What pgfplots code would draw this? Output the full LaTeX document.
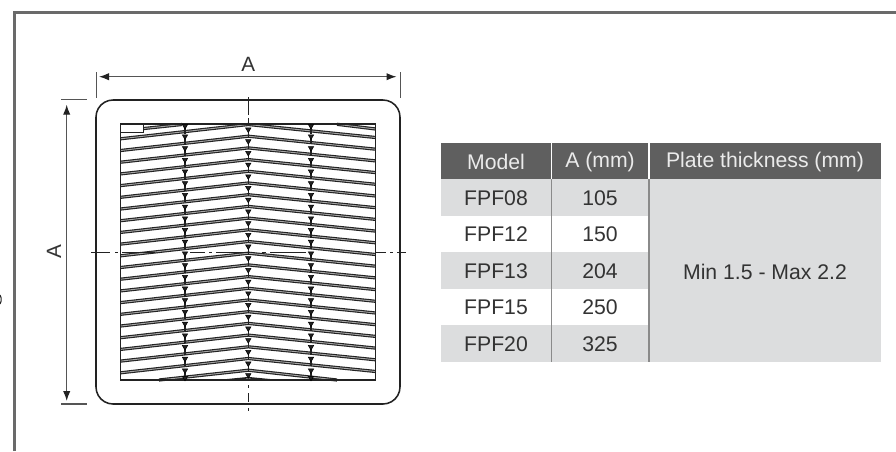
\documentclass[border=0pt]{standalone}
\usepackage{fontspec}
\setmainfont{Liberation Sans}
\usepackage{pgfplots}
\pgfplotsset{compat=1.18}
\usetikzlibrary{arrows.meta}
\definecolor{frameC}{HTML}{6A6A6A}
\definecolor{headC}{HTML}{5F5F5F}
\definecolor{rowC}{HTML}{DCDDDE}
\definecolor{sepC}{HTML}{8A8A8A}
\definecolor{inkC}{HTML}{222222}
\definecolor{dimC}{HTML}{555555}
\definecolor{txtC}{HTML}{333333}
\newcommand{\body}[1]{\fontsize{15.9}{18}\selectfont\color{txtC}#1}
\newcommand{\head}[1]{\fontsize{15.9}{18}\selectfont\color{white!92!black}#1}
\begin{document}
\begin{tikzpicture}
\begin{axis}[
  scale only axis, width=672pt, height=338.25pt,
  xmin=0, xmax=896, ymin=0, ymax=451, y dir=reverse,
  axis line style={draw=none}, ticks=none, clip=true,
  unbounded coords=jump, every axis plot/.append style={mark=none}]
% background
\addplot[fill=white,draw=none] coordinates {(0,0)(896,0)(896,451)(0,451)} --cycle;
% frame
\addplot[frameC,line width=2.3pt] coordinates {(14.7,451)(14.7,12.5)(896,12.5)};
\addplot[inkC,line width=0.8pt] coordinates {(0,295)(1.2,298)(1.2,301)(0,304)};
% table fills
\addplot[fill=headC,draw=none] coordinates {(441,142.7)(880.7,142.7)(880.7,179.3)(441,179.3)} --cycle;
\addplot[fill=rowC,draw=none] coordinates {(441,179.3)(551.3,179.3)(551.3,215.7)(441,215.7)} --cycle;
\addplot[fill=rowC,draw=none] coordinates {(441,252.3)(551.3,252.3)(551.3,288.7)(441,288.7)} --cycle;
\addplot[fill=rowC,draw=none] coordinates {(441,325.3)(551.3,325.3)(551.3,362)(441,362)} --cycle;
\addplot[fill=rowC,draw=none] coordinates {(551.3,179.3)(649,179.3)(649,215.7)(551.3,215.7)} --cycle;
\addplot[fill=rowC,draw=none] coordinates {(551.3,252.3)(649,252.3)(649,288.7)(551.3,288.7)} --cycle;
\addplot[fill=rowC,draw=none] coordinates {(551.3,325.3)(649,325.3)(649,362)(551.3,362)} --cycle;
\addplot[fill=rowC,draw=none] coordinates {(649,179.3)(880.7,179.3)(880.7,362)(649,362)} --cycle;
\addplot[white,line width=0.9pt] coordinates {(551.3,142.7)(551.3,179.3)};
\addplot[white,line width=0.9pt] coordinates {(649,142.7)(649,179.3)};
\addplot[sepC,line width=0.9pt] coordinates {(551.3,179.3)(551.3,362)};
\addplot[sepC,line width=0.9pt] coordinates {(649,179.3)(649,362)};
% table text
\node at (axis cs:496,162) {\head{Model}};
\node at (axis cs:600,162) {\head{A (mm)}};
\node at (axis cs:765,162) {\head{Plate thickness (mm)}};
\node at (axis cs:496,198) {\body{FPF08}};
\node at (axis cs:496,234.5) {\body{FPF12}};
\node at (axis cs:496,271) {\body{FPF13}};
\node at (axis cs:496,307.5) {\body{FPF15}};
\node at (axis cs:496,344) {\body{FPF20}};
\node at (axis cs:600,198) {\body{105}};
\node at (axis cs:600,234.5) {\body{150}};
\node at (axis cs:600,271) {\body{204}};
\node at (axis cs:600,307.5) {\body{250}};
\node at (axis cs:600,344) {\body{325}};
\node at (axis cs:765,271.5) {\body{Min 1.5 - Max 2.2}};
% dimensions
\addplot[dimC,line width=0.85pt] coordinates {(96.3,72.3)(96.3,98)};
\addplot[dimC,line width=0.85pt] coordinates {(400.3,72.3)(400.3,98)};
\addplot[dimC,line width=0.85pt] coordinates {(61.3,99.7)(87,99.7)};
\addplot[dimC,line width=0.85pt] coordinates {(61.3,404)(87,404)};
\addplot[dimC,line width=0.85pt,{Latex[length=7.5pt,width=5.5pt,color=inkC]}-{Latex[length=7.5pt,width=5.5pt,color=inkC]}] coordinates {(99,76.7)(396.5,76.7)};
\addplot[dimC,line width=0.85pt,{Latex[length=7.5pt,width=5.5pt,color=inkC]}-{Latex[length=7.5pt,width=5.5pt,color=inkC]}] coordinates {(66.7,104.7)(66.7,401)};
\node at (axis cs:248.3,64) {\fontsize{15.5}{16}\selectfont\color{txtC}A};
\node[rotate=90] at (axis cs:54,252) {\fontsize{15.5}{16}\selectfont\color{txtC}A};
% louvers
\addplot[inkC,line width=0.85pt,double=white!65!black,double distance=0.7pt,line join=miter] coordinates {
(144,128.5)(182,124.5)(182,nan)
(337,124.3)(375.7,129)(375.7,nan)
(120.5,138.8)(248.3,124.5)(375.7,137.5)(375.7,nan)
(120.5,150.5)(248.3,136.2)(375.7,149.2)(375.7,nan)
(120.5,162.2)(248.3,147.9)(375.7,160.9)(375.7,nan)
(120.5,173.9)(248.3,159.6)(375.7,172.6)(375.7,nan)
(120.5,185.6)(248.3,171.3)(375.7,184.3)(375.7,nan)
(120.5,197.3)(248.3,183)(375.7,196)(375.7,nan)
(120.5,209)(248.3,194.7)(375.7,207.7)(375.7,nan)
(120.5,220.7)(248.3,206.4)(375.7,219.4)(375.7,nan)
(120.5,232.4)(248.3,218.1)(375.7,231.1)(375.7,nan)
(120.5,244.1)(248.3,229.8)(375.7,242.8)(375.7,nan)
(120.5,255.8)(248.3,241.5)(375.7,254.5)(375.7,nan)
(120.5,267.5)(248.3,253.2)(375.7,266.2)(375.7,nan)
(120.5,279.2)(248.3,264.9)(375.7,277.9)(375.7,nan)
(120.5,290.9)(248.3,276.6)(375.7,289.6)(375.7,nan)
(120.5,302.6)(248.3,288.3)(375.7,301.3)(375.7,nan)
(120.5,314.3)(248.3,300)(375.7,313)(375.7,nan)
(120.5,326)(248.3,311.7)(375.7,324.7)(375.7,nan)
(120.5,337.7)(248.3,323.4)(375.7,336.4)(375.7,nan)
(120.5,349.4)(248.3,335.1)(375.7,348.1)(375.7,nan)
(120.5,361.1)(248.3,346.8)(375.7,359.8)(375.7,nan)
(120.5,372.8)(248.3,358.5)(375.7,371.5)(375.7,nan)
(159,380)(248.3,370.2)(337,380)
};
\addplot[inkC,line width=1.2pt] coordinates {(225,380)(248.3,377.7)(272,380)};
% ribs
\addplot[only marks,mark=triangle*,mark size=2.3pt,mark options={rotate=180,fill=inkC,draw=none},
  error bars/.cd,y dir=plus,y fixed=7.5,error mark=none,error bar style={inkC,line width=1.1pt}] coordinates {
(248.3,129.5)(248.3,141.2)(248.3,152.9)(248.3,164.6)(248.3,176.3)(248.3,188)(248.3,199.7)(248.3,211.4)(248.3,223.1)(248.3,234.8)(248.3,246.5)(248.3,258.2)(248.3,269.9)(248.3,281.6)(248.3,293.3)(248.3,305)(248.3,316.7)(248.3,328.4)(248.3,340.1)(248.3,351.8)(248.3,363.5)
(185,126)(185,136.4)(185,148.1)(185,159.8)(185,171.5)(185,183.2)(185,194.9)(185,206.6)(185,218.3)(185,230)(185,241.7)(185,253.4)(185,265.1)(185,276.8)(185,288.5)(185,300.2)(185,311.9)(185,323.6)(185,335.3)(185,347)(185,358.7)(185,370.4)
(311,126)(311,136.4)(311,148.1)(311,159.8)(311,171.5)(311,183.2)(311,194.9)(311,206.6)(311,218.3)(311,230)(311,241.7)(311,253.4)(311,265.1)(311,276.8)(311,288.5)(311,300.2)(311,311.9)(311,323.6)(311,335.3)(311,347)(311,358.7)(311,370.4)
};
\addplot[only marks,mark=triangle*,mark size=2.3pt,mark options={rotate=180,fill=inkC,draw=none}] coordinates {(248.3,375.2)(185,377.8)(311,377.8)};
% inner frame and notch
\addplot[inkC,line width=1.15pt] coordinates {(120.5,124)(375.7,124)(375.7,380)(120.5,380)} --cycle;
\addplot[fill=white,draw=inkC,line width=0.7pt] coordinates {(120.7,124)(143.5,124)(143.5,132)(120.7,132)} --cycle;
% outer rounded outline
\addplot[inkC,line width=1.15pt] coordinates {
(96,117)(96.58,112.6)(98.28,108.5)(100.98,104.98)(104.5,102.28)(108.6,100.58)(113,100)
(383,100)(387.4,100.58)(391.5,102.28)(395.02,104.98)(397.72,108.5)(399.42,112.6)(400,117)
(400,387)(399.42,391.4)(397.72,395.5)(395.02,399.02)(391.5,401.72)(387.4,403.42)(383,404)
(113,404)(108.6,403.42)(104.5,401.72)(100.98,399.02)(98.28,395.5)(96.58,391.4)(96,387)} --cycle;
% centre lines
\addplot[inkC,line width=0.6pt] coordinates {(248.3,97)(248.3,115)(248.3,nan)(248.3,118)(248.3,124)(248.3,nan)(248.3,385)(248.3,388)(248.3,nan)(248.3,393)(248.3,402)(248.3,nan)(248.3,408)(248.3,411)};
\addplot[inkC,line width=0.6pt] coordinates {(91,252)(110,252)(110,nan)(115,252)(118,252)(118,nan)(122,252)(155,252)(155,nan)(190,252)(205,252)(205,nan)(209,252)(212,252)(212,nan)(216,252)(250,252)(250,nan)(262,252)(266,252)(266,nan)(270,252)(306,252)(306,nan)(376,252)(386,252)(386,nan)(390,252)(393,252)(393,nan)(397,252)(406,252)};
\end{axis}
\end{tikzpicture}
\end{document}
